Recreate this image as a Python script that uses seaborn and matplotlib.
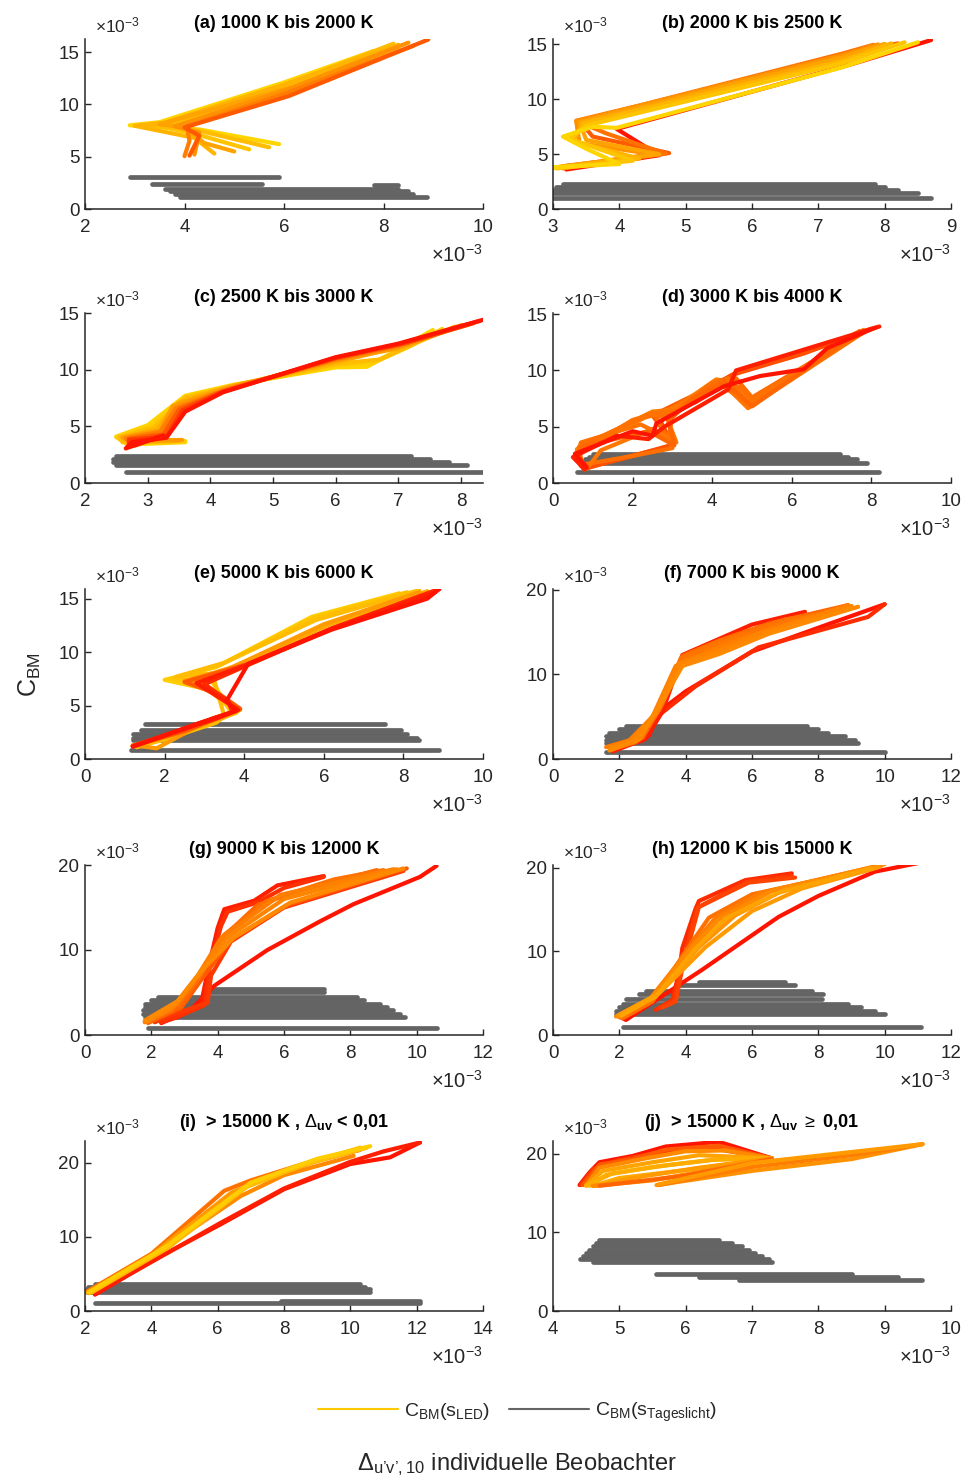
import matplotlib
matplotlib.use("Agg")
import matplotlib.pyplot as plt
from matplotlib.colors import LinearSegmentedColormap
from matplotlib.lines import Line2D
import pandas as pd
import seaborn as sns

# ---------------------------------------------------------------------------
# Data (all Δu'v',10 and C_BM values in units of 1e-3)
# LED curves: one polyline per observer, colour level 0 = red ... 1 = yellow
# Daylight curves: (x_start, x_end, C_BM) per observer
# ---------------------------------------------------------------------------
TITLES = [
    "(a) 1000 K bis 2000 K", "(b) 2000 K bis 2500 K",
    "(c) 2500 K bis 3000 K", "(d) 3000 K bis 4000 K",
    "(e) 5000 K bis 6000 K", "(f) 7000 K bis 9000 K",
    "(g) 9000 K bis 12000 K", "(h) 12000 K bis 15000 K",
    r"(i)  > 15000 K , $\Delta_{\mathbf{uv}}$ < 0,01",
    r"(j)  > 15000 K , $\Delta_{\mathbf{uv}}\ \geq$ 0,01",
]
XLIMS = [(2, 10), (3, 9), (2, 8.35), (0, 10), (0, 10),
         (0, 12), (0, 12), (0, 12), (2, 14), (4, 10)]
YLIMS = [16.25, 15.5, 15.0, 15.1, 15.9, 20.1, 20.0, 20.3, 22.9, 21.6]
XTICKS = [[2, 4, 6, 8, 10], [3, 4, 5, 6, 7, 8, 9], [2, 3, 4, 5, 6, 7, 8],
          [0, 2, 4, 6, 8, 10], [0, 2, 4, 6, 8, 10], [0, 2, 4, 6, 8, 10, 12],
          [0, 2, 4, 6, 8, 10, 12], [0, 2, 4, 6, 8, 10, 12],
          [2, 4, 6, 8, 10, 12, 14], [4, 5, 6, 7, 8, 9, 10]]
YTICKS = [[0, 5, 10, 15]] * 5 + [[0, 10, 20]] * 5

LED_A = [
    [(5.9, 6.2), (4.3, 7.6), (2.9, 8.0), (3.5, 8.3), (6.0, 12.1), (7.8, 15.1)],
    [(5.3, 5.7), (4.2, 7.2), (3.3, 8.1), (3.9, 8.3), (6.0, 11.5), (8.0, 15.3)],
    [(5.7, 5.9), (4.1, 7.7), (3.2, 8.0), (3.7, 8.2), (6.0, 11.8), (8.2, 15.8)],
    [(4.6, 5.3), (4.2, 6.8), (3.0, 7.95), (3.6, 8.25), (6.0, 11.9), (8.3, 15.7)],
    [(5.0, 5.5), (4.4, 6.3), (4.0, 7.8), (3.5, 8.1), (6.2, 11.7), (8.3, 15.5)],
    [(4.2, 5.2), (4.3, 7.3), (3.8, 7.9), (6.0, 11.3), (8.5, 15.9)],
    [(4.0, 5.05), (4.1, 6.5), (4.05, 7.9), (6.0, 11.0), (8.6, 15.6)],
    [(4.1, 5.1), (4.3, 7.0), (4.0, 7.8), (6.1, 10.8), (8.9, 16.2)],
]
LEVEL_A = [0.95, 0.85, 0.8, 0.75, 0.65, 0.55, 0.45, 0.3]
DAY_A = [(2.9, 5.9, 3.05), (3.35, 5.55, 2.35), (7.8, 8.3, 2.25),
         (3.6, 8.3, 1.95), (3.7, 8.5, 1.7), (3.8, 8.6, 1.45), (3.9, 8.88, 1.15)]

LED_B = [
    [(3.2, 3.6), (4.6, 4.9), (3.96, 7.3), (4.5, 8.2), (7.5, 13.2), (8.7, 15.4)],
    [(3.15, 3.9), (4.75, 5.1), (3.6, 6.6), (3.4, 8.0), (4.3, 9.3), (7.4, 14.1), (8.2, 15.1)],
    [(3.15, 3.7), (4.7, 5.05), (3.8, 6.9), (3.35, 8.05), (4.32, 9.46), (7.35, 14.15), (7.83, 14.97)],
    [(3.1, 3.8), (4.5, 5.0), (3.4, 6.0), (3.35, 8.0), (7.35, 14.0), (7.9, 15.0)],
    [(3.1, 3.85), (4.6, 5.0), (3.5, 6.3), (3.4, 7.9), (7.35, 13.8), (8.0, 15.05)],
    [(3.0, 3.75), (4.3, 4.6), (3.3, 6.2), (3.45, 7.8), (7.35, 13.5), (8.1, 15.1)],
    [(3.05, 3.7), (4.2, 4.4), (3.25, 6.4), (3.5, 7.6), (7.3, 13.2), (8.3, 15.2)],
    [(3.0, 3.8), (4.0, 4.1), (3.5, 5.5), (3.15, 6.6), (3.6, 7.5), (3.96, 7.4), (7.35, 12.9), (8.5, 15.2)],
]
LEVEL_B = [0.0, 0.3, 0.4, 0.55, 0.65, 0.75, 0.85, 0.95]
DAY_B = [(3.15, 7.85, 2.3), (3.05, 8.0, 2.0), (3.0, 8.2, 1.75),
         (3.0, 8.5, 1.5), (3.0, 8.7, 1.0)]

LED_C = [
    [(3.6, 3.6), (2.7, 3.4), (2.5, 4.1), (3.0, 5.1), (3.6, 7.7), (4.4, 8.7), (6.0, 10.2), (6.5, 10.25), (7.0, 11.8), (7.55, 13.5)],
    [(3.6, 3.7), (2.65, 3.5), (2.5, 4.05), (3.05, 5.0), (3.6, 7.6), (4.4, 8.65), (6.0, 10.35), (6.6, 10.6), (7.2, 12.1), (7.7, 13.6)],
    [(3.5, 3.7), (2.6, 3.6), (2.55, 4.0), (3.1, 4.9), (3.6, 7.5), (4.4, 8.6), (6.0, 10.5), (6.7, 10.9), (7.3, 12.4), (7.9, 13.8)],
    [(3.5, 3.75), (2.7, 3.6), (2.6, 4.05), (3.15, 4.7), (3.5, 7.1), (4.3, 8.5), (6.0, 10.65), (7.0, 12.0), (8.0, 13.9)],
    [(3.55, 3.8), (2.7, 3.7), (2.6, 4.0), (3.2, 4.6), (3.4, 6.8), (4.3, 8.4), (6.0, 10.8), (7.0, 11.9), (8.0, 13.9)],
    [(3.3, 4.0), (2.75, 3.5), (2.65, 3.95), (3.2, 4.5), (3.45, 6.6), (4.25, 8.25), (6.0, 10.9), (7.0, 12.1), (8.1, 14.0)],
    [(3.2, 4.1), (2.8, 3.3), (2.7, 3.9), (3.25, 4.3), (3.5, 6.5), (4.2, 8.1), (6.0, 11.0), (7.1, 12.3), (8.2, 14.1)],
    [(3.2, 4.15), (2.7, 3.2), (2.7, 3.8), (3.3, 4.1), (3.55, 6.4), (4.2, 8.05), (6.0, 11.05), (7.05, 12.3), (8.3, 14.3)],
    [(3.25, 4.2), (2.65, 3.05), (2.75, 3.6), (3.3, 4.0), (3.6, 6.3), (4.2, 8.0), (6.0, 11.1), (7.0, 12.3), (8.35, 14.4)],
]
LEVEL_C = [0.95, 0.9, 0.8, 0.7, 0.6, 0.45, 0.3, 0.15, 0.0]
DAY_C = [(2.5, 7.2, 2.35), (2.45, 7.5, 2.1), (2.45, 7.8, 1.85),
         (2.5, 8.1, 1.6), (2.65, 8.35, 0.95)]

LED_D = [
    [(0.8, 1.25), (1.5, 2.0), (3.04, 3.35), (2.5, 6.0), (4.0, 8.6), (4.6, 9.8), (6.0, 11.2), (8.0, 13.7)],
    [(0.8, 1.3), (1.8, 2.2), (3.0, 3.4), (2.7, 5.5), (3.8, 8.2), (4.5, 9.6), (6.3, 11.5), (8.0, 13.7)],
    [(0.7, 1.6), (2.0, 2.4), (3.0, 3.1), (2.6, 5.8), (3.7, 7.6), (4.6, 9.3), (5.0, 7.6), (7.8, 13.5)],
    [(0.7, 1.8), (0.6, 3.0), (2.5, 6.35), (3.0, 6.5), (4.1, 9.2), (4.5, 9.0), (4.9, 6.7), (7.8, 13.6)],
    [(0.6, 2.2), (0.7, 3.6), (2.2, 5.2), (2.9, 4.0), (3.0, 6.0), (4.0, 8.8), (4.7, 8.5), (5.0, 7.2), (7.7, 13.4)],
    [(0.7, 1.5), (0.6, 2.8), (2.3, 5.8), (2.8, 6.3), (3.8, 8.2), (4.3, 9.2), (5.0, 6.9), (7.7, 13.4)],
    [(0.9, 1.5), (1.2, 2.9), (2.5, 4.8), (3.1, 3.6), (2.8, 6.4), (3.6, 7.2), (4.2, 9.1), (4.9, 6.65), (7.9, 13.6)],
    [(0.75, 1.3), (0.65, 3.2), (2.4, 6.1), (3.1, 6.4), (4.0, 8.9), (4.4, 9.3), (4.95, 6.8), (7.8, 13.5)],
    [(0.8, 1.2), (0.55, 2.5), (2.0, 5.6), (2.6, 6.2), (3.2, 6.5), (4.2, 8.8), (4.9, 7.0), (7.6, 13.3)],
    [(0.6, 2.0), (0.8, 3.3), (2.4, 4.6), (3.05, 3.35), (2.9, 5.5), (3.5, 7.5), (4.3, 9.0), (5.0, 6.8), (7.7, 13.5)],
    [(0.8, 1.2), (0.5, 2.3), (1.6, 4.2), (2.4, 3.9), (2.8, 5.0), (4.4, 8.3), (4.6, 10.0), (8.2, 13.9)],
    [(0.85, 1.4), (0.55, 2.6), (2.0, 4.6), (2.5, 4.2), (2.6, 5.3), (4.3, 8.6), (5.2, 9.5), (6.3, 10.1), (6.9, 12.0), (8.1, 13.8)],
]
LEVEL_D = [0.3, 0.25, 0.38, 0.45, 0.4, 0.42, 0.42, 0.38, 0.4, 0.35, 0.05, 0.0]
DAY_D = [(1.0, 7.2, 2.6), (0.9, 7.4, 2.35), (0.8, 7.65, 2.1),
         (0.8, 7.9, 1.8), (0.6, 8.2, 0.95)]

LED_E = [
    [(1.2, 1.2), (2.0, 1.8), (3.1, 3.6), (3.8, 4.3), (3.1, 6.5), (2.0, 7.4), (3.3, 8.6), (5.7, 13.3), (7.9, 15.5)],
    [(1.25, 1.2), (2.2, 2.0), (3.2, 3.5), (3.7, 4.2), (3.2, 7.2), (2.2, 7.5), (3.4, 8.8), (5.75, 13.2), (8.1, 15.6)],
    [(1.3, 1.1), (2.4, 2.3), (3.3, 3.4), (3.5, 4.0), (3.2, 8.0), (2.3, 7.7), (3.5, 9.0), (5.8, 13.0), (8.4, 15.8)],
    [(1.2, 1.25), (2.7, 2.9), (3.5, 3.9), (3.85, 4.5), (3.3, 6.0), (2.6, 7.3), (3.7, 8.6), (6.1, 12.5), (8.6, 15.7)],
    [(1.2, 1.3), (1.8, 1.0), (3.2, 3.8), (3.9, 4.6), (3.0, 7.0), (2.5, 7.3), (3.6, 8.4), (6.0, 12.6), (8.4, 15.6)],
    [(1.2, 1.2), (2.5, 2.6), (3.6, 4.2), (3.9, 4.7), (3.4, 6.0), (2.5, 7.2), (4.1, 8.9), (6.2, 12.2), (8.9, 15.9)],
    [(1.2, 1.2), (3.0, 3.5), (3.7, 4.4), (3.6, 5.4), (3.0, 7.0), (4.1, 8.8), (6.2, 12.2), (8.9, 15.9)],
    [(1.2, 1.2), (3.3, 3.8), (3.85, 4.6), (3.6, 5.2), (2.8, 7.1), (4.1, 8.85), (6.2, 12.2), (8.8, 15.6)],
    [(1.2, 1.15), (2.9, 3.4), (3.8, 4.5), (3.55, 5.4), (4.1, 8.9), (6.2, 12.1), (8.6, 15.0), (8.9, 15.9)],
]
LEVEL_E = [0.9, 0.85, 0.8, 0.7, 0.6, 0.3, 0.1, 0.05, 0.0]
DAY_E = [(1.5, 7.55, 3.3), (1.4, 7.95, 2.75), (1.2, 8.1, 2.3), (1.2, 8.35, 2.0),
         (1.2, 8.4, 1.75), (1.15, 8.9, 0.8)]

LED_F = [
    [(1.7, 1.5), (2.9, 2.8), (3.2, 5.6), (4.0, 8.0), (6.0, 12.7), (8.2, 15.8), (10.0, 18.3)],
    [(1.9, 1.2), (2.7, 2.2), (3.2, 5.2), (4.3, 8.6), (6.2, 13.2), (9.5, 16.8), (10.0, 18.3)],
    [(1.8, 0.9), (2.8, 2.4), (3.3, 5.6), (3.9, 12.3), (6.0, 15.9), (7.6, 17.4)],
    [(1.8, 1.3), (2.7, 2.5), (3.3, 6.5), (3.9, 12.2), (5.0, 14.0), (6.5, 16.0), (8.9, 18.2)],
    [(1.8, 1.2), (2.5, 2.0), (3.2, 5.8), (3.85, 11.9), (5.0, 13.9), (7.0, 16.5), (8.8, 17.6)],
    [(1.75, 1.1), (2.5, 2.2), (3.15, 5.6), (3.95, 11.7), (5.0, 13.6), (6.8, 15.9), (8.6, 17.7)],
    [(1.6, 1.4), (2.3, 2.2), (3.0, 5.0), (3.7, 11.0), (5.0, 13.2), (6.0, 14.6), (8.9, 18.2)],
    [(1.7, 1.3), (2.4, 2.1), (3.05, 5.3), (3.8, 11.3), (5.0, 12.8), (6.3, 14.9), (9.0, 18.1)],
    [(1.7, 1.0), (2.6, 2.3), (3.1, 5.5), (3.9, 11.0), (5.0, 12.4), (6.5, 14.8), (9.2, 18.0)],
]
LEVEL_F = [0.0, 0.1, 0.05, 0.35, 0.4, 0.42, 0.45, 0.48, 0.5]
DAY_F = [(2.2, 7.65, 3.9), (2.0, 8.0, 3.5), (1.7, 8.3, 3.1), (1.6, 8.8, 2.7),
         (1.6, 9.1, 2.3), (1.6, 9.2, 1.95), (1.6, 10.0, 0.8)]

LED_G = [
    [(2.3, 1.4), (3.2, 3.0), (3.9, 5.8), (5.5, 10.0), (7.1, 13.4), (8.1, 15.4), (10.1, 18.6), (10.6, 19.9)],
    [(2.3, 1.5), (2.8, 2.1), (3.3, 3.1), (3.5, 3.7), (3.7, 7.5), (4.0, 12.6), (4.2, 14.8), (5.1, 15.8), (5.8, 17.6), (7.2, 18.7)],
    [(2.3, 1.5), (3.0, 2.5), (3.6, 3.5), (3.75, 7.6), (4.1, 12.8), (4.3, 14.5), (5.2, 15.6), (6.0, 17.3), (7.2, 18.6)],
    [(2.1, 1.5), (2.8, 2.6), (3.7, 3.8), (3.8, 7.0), (4.4, 11.0), (6.0, 15.0), (9.6, 19.3)],
    [(2.0, 1.6), (2.9, 3.2), (3.6, 7.0), (4.4, 11.2), (6.1, 15.3), (9.7, 19.6)],
    [(1.9, 1.4), (2.9, 3.4), (3.3, 6.0), (4.3, 12.0), (5.2, 15.3), (6.5, 17.0), (8.8, 19.4)],
    [(1.9, 1.5), (2.8, 3.6), (3.4, 6.5), (4.2, 11.8), (5.5, 15.8), (7.5, 18.3), (9.0, 19.4)],
    [(1.8, 1.5), (2.6, 3.0), (3.4, 7.0), (4.1, 11.4), (5.9, 16.5), (9.3, 19.5)],
    [(1.85, 1.6), (2.7, 3.5), (3.45, 7.2), (4.3, 11.5), (6.0, 16.0), (9.4, 19.5)],
    [(1.8, 1.7), (2.8, 4.0), (3.5, 7.5), (4.5, 11.5), (6.2, 15.6), (9.6, 19.6)],
]
LEVEL_G = [0.0, 0.05, 0.12, 0.15, 0.3, 0.35, 0.4, 0.45, 0.48, 0.5]
DAY_G = [(3.7, 7.2, 5.45), (3.7, 7.2, 5.1), (2.2, 8.2, 4.5), (2.0, 8.4, 4.1),
         (1.8, 8.9, 3.7), (1.8, 9.1, 3.3), (1.76, 9.3, 2.9), (1.76, 9.5, 2.5),
         (1.8, 9.64, 2.1), (1.9, 10.6, 0.85)]

LED_H = [
    [(2.0, 2.2), (2.2, 1.8), (4.5, 7.8), (6.8, 14.1), (8.0, 16.6), (9.7, 19.5), (11.1, 20.6)],
    [(3.1, 3.0), (3.6, 4.2), (3.8, 7.5), (3.9, 10.4), (4.3, 15.1), (4.4, 16.0), (5.8, 18.5), (7.2, 19.3)],
    [(3.2, 3.2), (3.65, 4.1), (3.85, 7.8), (4.35, 15.2), (5.85, 18.3), (7.2, 19.0)],
    [(3.3, 3.3), (3.7, 4.0), (3.9, 8.0), (4.4, 15.3), (5.9, 18.2), (7.3, 18.8)],
    [(2.1, 2.0), (3.0, 4.0), (4.0, 10.0), (4.7, 14.0), (6.0, 16.8), (9.5, 19.8)],
    [(2.0, 2.1), (2.9, 4.2), (4.1, 10.2), (4.9, 14.0), (6.3, 17.0), (9.7, 20.1)],
    [(1.9, 2.2), (3.0, 4.5), (4.2, 10.5), (5.0, 13.8), (6.6, 17.2), (10.0, 20.4)],
    [(1.95, 2.3), (3.1, 4.7), (4.4, 10.5), (5.5, 14.3), (7.0, 17.4), (9.9, 20.2)],
    [(2.0, 2.4), (3.2, 5.0), (4.6, 10.5), (6.0, 14.8), (7.5, 17.5), (9.8, 20.0)],
    [(2.05, 2.3), (3.1, 4.6), (4.3, 10.3), (5.2, 13.9), (6.8, 17.0), (9.6, 19.9)],
]
LEVEL_H = [0.0, 0.1, 0.15, 0.2, 0.4, 0.45, 0.5, 0.55, 0.6, 0.65]
DAY_H = [(4.4, 7.0, 6.35), (3.8, 7.3, 5.95), (2.8, 7.8, 5.3), (2.6, 8.15, 4.85),
         (2.2, 8.1, 4.35), (2.1, 8.9, 3.7), (2.0, 9.3, 3.3), (1.9, 9.7, 2.9),
         (1.9, 10.0, 2.45), (2.1, 11.1, 1.0)]

LED_I = [
    [(2.3, 2.2), (4.0, 6.7), (6.1, 11.7), (8.0, 16.4), (10.0, 19.8), (11.2, 20.7), (12.1, 22.7)],
    [(2.3, 2.3), (6.1, 11.9), (8.0, 16.5), (10.0, 20.1), (11.0, 21.5), (12.1, 22.7)],
    [(2.05, 2.6), (4.0, 7.7), (6.2, 16.2), (7.0, 17.6), (8.5, 19.7), (10.3, 21.7)],
    [(2.1, 2.4), (4.0, 7.3), (6.7, 15.5), (8.0, 18.3), (10.1, 20.9)],
    [(2.1, 2.5), (4.0, 7.5), (6.4, 15.9), (7.5, 18.0), (9.0, 20.2), (10.4, 21.9)],
    [(2.2, 2.5), (4.5, 8.5), (6.9, 16.8), (8.8, 20.0), (10.3, 22.0)],
    [(2.15, 2.45), (4.2, 7.9), (6.8, 16.6), (8.5, 19.6), (10.5, 22.0)],
    [(2.1, 2.5), (4.5, 8.8), (7.0, 17.3), (9.0, 20.5), (10.6, 22.2)],
]
LEVEL_I = [0.0, 0.05, 0.4, 0.5, 0.6, 0.75, 0.8, 0.9]
DAY_I = [(2.3, 10.3, 3.7), (2.1, 10.45, 3.3), (2.05, 10.6, 2.9), (2.05, 10.6, 2.5),
         (7.9, 12.1, 1.35), (2.3, 12.1, 1.1)]

LED_J = [
    [(4.4, 16.0), (4.55, 17.6), (4.7, 18.9), (5.2, 19.7), (5.7, 20.9), (6.5, 21.5), (7.3, 19.4)],
    [(4.42, 16.0), (4.6, 18.0), (5.0, 19.2), (5.5, 20.0), (6.3, 20.8), (7.3, 19.4)],
    [(4.45, 16.0), (4.7, 18.6), (5.2, 19.3), (5.7, 20.5), (6.5, 21.0), (7.3, 19.4)],
    [(4.5, 16.0), (4.7, 18.2), (5.4, 19.4), (6.0, 20.3), (6.6, 20.4), (7.3, 19.4)],
    [(4.5, 15.9), (4.75, 17.8), (5.5, 18.9), (6.2, 19.8), (7.3, 19.4)],
    [(4.55, 15.9), (4.8, 17.3), (5.5, 18.3), (6.4, 19.2), (7.3, 19.4)],
    [(4.5, 15.95), (4.9, 17.5), (5.7, 18.5), (6.5, 19.3), (7.3, 19.4)],
    [(4.6, 15.9), (5.0, 16.9), (6.0, 17.9), (7.3, 19.4)],
    [(4.65, 15.9), (5.2, 16.9), (6.2, 18.2), (7.3, 19.4)],
    [(4.6, 15.9), (5.5, 16.6), (6.5, 18.1), (7.3, 19.4)],
    [(4.7, 15.9), (6.0, 17.2), (7.3, 19.3)],
    [(5.56, 16.0), (7.0, 17.8), (8.5, 19.3), (9.57, 21.2)],
    [(5.6, 16.0), (7.0, 18.3), (8.5, 19.8), (9.57, 21.2)],
    [(5.6, 16.1), (7.0, 18.8), (8.5, 20.2), (9.57, 21.2)],
]
LEVEL_J = [0.0, 0.15, 0.3, 0.5, 0.65, 0.75, 0.7, 0.7, 0.6, 0.5, 0.35, 0.55, 0.45, 0.6]
DAY_J = [(4.7, 6.5, 9.0), (4.65, 6.7, 8.6), (4.6, 6.85, 8.2), (4.55, 6.95, 7.8),
         (4.5, 7.05, 7.4), (4.45, 7.15, 7.0), (4.4, 7.25, 6.6), (4.6, 7.3, 6.25),
         (5.56, 8.5, 4.7), (6.2, 9.2, 4.3), (6.8, 9.57, 3.95)]

LEDS = [LED_A, LED_B, LED_C, LED_D, LED_E, LED_F, LED_G, LED_H, LED_I, LED_J]
LEVELS = [LEVEL_A, LEVEL_B, LEVEL_C, LEVEL_D, LEVEL_E,
          LEVEL_F, LEVEL_G, LEVEL_H, LEVEL_I, LEVEL_J]
DAYS = [DAY_A, DAY_B, DAY_C, DAY_D, DAY_E, DAY_F, DAY_G, DAY_H, DAY_I, DAY_J]

# ---------------------------------------------------------------------------
# Style
# ---------------------------------------------------------------------------
sns.set_theme(style="ticks")
plt.rcParams.update({
    "font.family": ["Liberation Sans", "DejaVu Sans"],
    "mathtext.fontset": "custom",
    "mathtext.rm": "Liberation Sans",
    "mathtext.it": "Liberation Sans:italic",
    "mathtext.bf": "Liberation Sans:bold",
    "mathtext.sf": "Liberation Sans",
    "axes.linewidth": 1.1,
    "axes.edgecolor": "#262626",
})

INK = "#262626"
GRAY = "#646464"
LED_CMAP = LinearSegmentedColormap.from_list("led", ["#FF1400", "#FF8A00", "#FFDD00"])

W, H = 963, 1483
fig = plt.figure(figsize=(W / 100, H / 100), dpi=100)

COL_LEFT = [85, 553]
ROW_BOTTOM = [209, 483, 759, 1035, 1311]
AX_W, AX_H = 398, 170


def draw_panel(ax, led, levels, day):
    rows = []
    for k, (x0, x1, y) in enumerate(day):
        rows += [(k, x0, y), (k, x1, y)]
    ddf = pd.DataFrame(rows, columns=["obs", "x", "y"])
    sns.lineplot(data=ddf, x="x", y="y", units="obs", estimator=None, sort=False,
                 color=GRAY, lw=3.4, ax=ax, legend=False)

    rows = []
    for k, pts in enumerate(led):
        for (x, y) in pts:
            rows.append((k, x, y))
    ldf = pd.DataFrame(rows, columns=["obs", "x", "y"])
    pal = {k: LED_CMAP(levels[k]) for k in range(len(led))}
    sns.lineplot(data=ldf, x="x", y="y", hue="obs", units="obs", palette=pal,
                 estimator=None, sort=False, lw=3.0, ax=ax, legend=False)


for i in range(10):
    r, c = divmod(i, 2)
    left = COL_LEFT[c] / W
    bottom = 1 - ROW_BOTTOM[r] / H
    ax = fig.add_axes([left, bottom, AX_W / W, AX_H / H])
    draw_panel(ax, LEDS[i], LEVELS[i], DAYS[i])

    ax.set_xlim(*XLIMS[i])
    ax.set_ylim(0, YLIMS[i])
    ax.set_xticks(XTICKS[i])
    ax.set_yticks(YTICKS[i])
    ax.set_xticklabels([str(t) for t in XTICKS[i]])
    ax.set_yticklabels([str(t) for t in YTICKS[i]])
    ax.set_xlabel("")
    ax.set_ylabel("")
    sns.despine(ax=ax)
    ax.tick_params(axis="both", direction="in", length=4, width=1.0,
                   color=INK, labelcolor=INK, labelsize=13.5)
    ax.tick_params(axis="x", pad=7)
    ax.tick_params(axis="y", pad=4)

    ax.set_title(TITLES[i], fontsize=13, fontweight="bold", color="black",
                 pad=10 if r == 4 else 8)

    ax.annotate("×10$^{-3}$", xy=(0, 1), xycoords="axes fraction",
                xytext=(7, 5), textcoords="offset points",
                ha="left", va="baseline", fontsize=12.5, color=INK)
    ax.annotate("×10$^{-3}$", xy=(1, 0), xycoords="axes fraction",
                xytext=(0, -38), textcoords="offset points",
                ha="right", va="baseline", fontsize=14.5, color=INK)

# Shared axis labels
fig.text(0.031, 1 - 675 / H, r"$\mathregular{C_{BM}}$", rotation=90,
         ha="center", va="center", fontsize=18, color=INK)
fig.text(0.537, 1 - 1470 / H,
         "$\\Delta_{\\mathregular{u\u2019v\u2019,10}}$ individuelle Beobachter",
         ha="center", va="baseline", fontsize=17, color=INK)

# Legend
handles = [Line2D([], [], color="#FFC800", lw=1.5),
           Line2D([], [], color=GRAY, lw=1.5)]
labels = [r"$\mathregular{C_{BM}(s_{LED})}$",
          r"$\mathregular{C_{BM}(s_{Tageslicht})}$"]
fig.legend(handles, labels, loc="center", bbox_to_anchor=(0.537, 1 - 1412 / H),
           ncol=2, frameon=False, fontsize=14, handlelength=4.1,
           handletextpad=0.3, columnspacing=1.0, labelcolor=INK)

fig.savefig("out.png", dpi=100)
